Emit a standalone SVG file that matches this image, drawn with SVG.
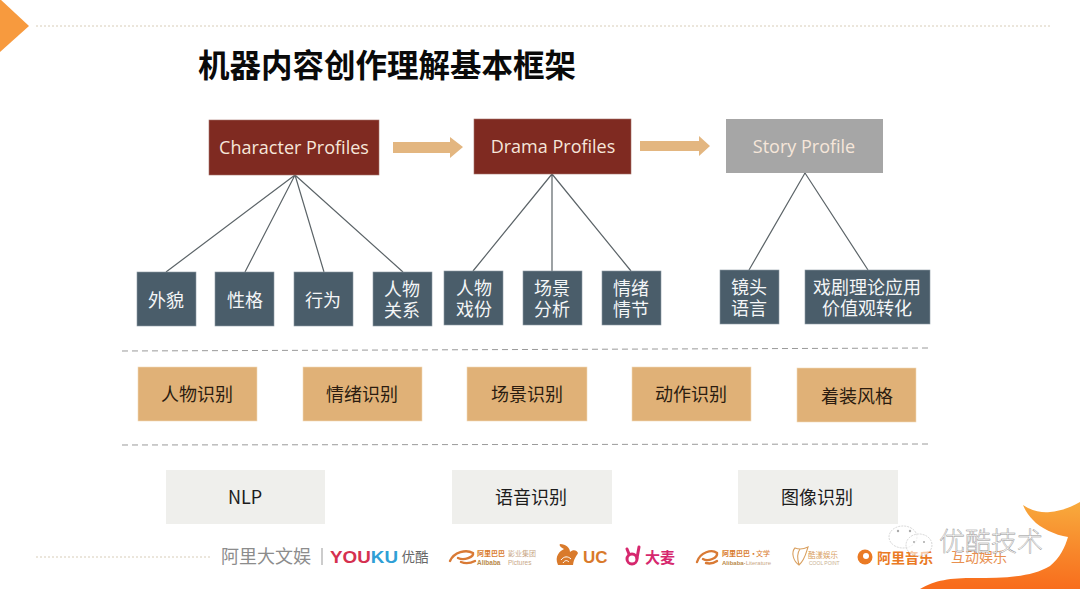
<svg xmlns="http://www.w3.org/2000/svg" width="1080" height="589" viewBox="0 0 1080 589">
<defs>
<linearGradient id="tail" x1="0.7" y1="0" x2="0.6" y2="1">
<stop offset="0" stop-color="#f8a93c"/>
<stop offset="0.55" stop-color="#f8862a"/>
<stop offset="1" stop-color="#f86c1c"/>
</linearGradient>
<style>
text{font-family:"Noto Sans CJK SC","Noto Sans",sans-serif;text-anchor:middle}
.red{fill:#7f2a21;stroke:#a5726a;stroke-width:.6}
.slate{fill:#4a5d6a;stroke:#8c9aa4;stroke-width:.6}
.tan{fill:#e0b177;stroke:#f0d9b8;stroke-width:.6}
.pale{fill:#efefec}
.en{font-family:"Open Sans","Noto Sans",sans-serif;font-size:18px;fill:#f6e6da}
.wt{font-size:18px;fill:#f4f6f7}
.bk{font-size:18px;fill:#2b1c10}
.link{stroke:#5c6468;stroke-width:1.2;fill:none}
.dash{stroke:#9a9a9a;stroke-width:1;stroke-dasharray:6 4;fill:none}
.dot{stroke:#d8cdb8;stroke-width:1;stroke-dasharray:2 2;fill:none}
.flow{fill:#e3b680}
.start{text-anchor:start}
.latin{font-family:"Liberation Sans",sans-serif}
.ali{font-size:7px;fill:#d97a2b}
.alien{font-size:6.5px;font-weight:700;fill:#b98a4a}
.swoosh{fill:none;stroke:#d97a35;stroke-width:2.4;stroke-linecap:round}
.bubble{fill:#fff;fill-opacity:.6;stroke:#c4c4c4;stroke-width:.7;stroke-dasharray:2 1}
</style>
</defs>
<rect width="1080" height="589" fill="#fff"/>
<g id="decor">
<polygon points="0,-1 29,26 0,52" fill="#f79a3e"/>
<line class="dot" x1="36" y1="26" x2="1050" y2="26"/>
<line class="dot" x1="36" y1="557" x2="212" y2="557"/>
<path d="M920,589C935,580 950,578 975,578C1000,578 1030,578 1050,566C1060,558 1065,547 1068,537C1055,535 1040,528 1033,520C1028,515 1025,510 1023,505C1032,511 1042,513 1050,512C1060,511 1070,508 1080,502V589Z" fill="url(#tail)"/>
</g>
<text id="title" x="387" y="77" style="font-size:31.5px;font-weight:700;fill:#0a0a0a">机器内容创作理解基本框架</text>
<g id="connectors">
<path class="link" d="M295,175L166,272M295,175L245,272M295,175L324,272M295,175L403,272"/>
<path class="link" d="M552,174L473,271M552,174L552,271M552,174L631,271"/>
<path class="link" d="M805,173L749,270M805,173L868,270"/>
<polygon class="flow" points="393,142 450,142 450,137 463,147 450,158 450,153 393,153"/>
<polygon class="flow" points="640,141 699,141 699,136 710,146 699,156 699,151 640,151"/>
</g>
<g id="character-profiles"><rect class="red" x="209" y="120" width="170" height="55"/><text class="en" x="294" y="154">Character Profiles</text></g>
<g id="drama-profiles"><rect class="red" x="474" y="119" width="157" height="55"/><text class="en" x="553" y="153">Drama Profiles</text></g>
<g id="story-profile"><rect x="726" y="119" width="157" height="54" fill="#a6a6a6"/><text class="en" x="804" y="153">Story Profile</text></g>
<g id="n-appearance"><rect class="slate" x="137" y="272" width="59" height="54"/><text class="wt" x="166" y="307">外貌</text></g>
<g id="n-personality"><rect class="slate" x="215" y="272" width="59" height="54"/><text class="wt" x="245" y="307">性格</text></g>
<g id="n-behaviour"><rect class="slate" x="294" y="272" width="59" height="54"/><text class="wt" x="323" y="307">行为</text></g>
<g id="n-relations"><rect class="slate" x="373" y="272" width="59" height="54"/><text class="wt" x="402" y="296">人物</text><text class="wt" x="402" y="317">关系</text></g>
<g id="n-role"><rect class="slate" x="444" y="271" width="59" height="54"/><text class="wt" x="474" y="295">人物</text><text class="wt" x="474" y="316">戏份</text></g>
<g id="n-scene"><rect class="slate" x="523" y="271" width="59" height="54"/><text class="wt" x="552" y="295">场景</text><text class="wt" x="552" y="316">分析</text></g>
<g id="n-plot"><rect class="slate" x="602" y="271" width="59" height="54"/><text class="wt" x="631" y="295">情绪</text><text class="wt" x="631" y="316">情节</text></g>
<g id="n-shot"><rect class="slate" x="720" y="270" width="59" height="54"/><text class="wt" x="749" y="294">镜头</text><text class="wt" x="749" y="315">语言</text></g>
<g id="n-theory"><rect class="slate" x="805" y="270" width="125" height="54"/><text class="wt" x="867" y="294">戏剧理论应用</text><text class="wt" x="867" y="315">价值观转化</text></g>
<line class="dash" x1="122" y1="351" x2="929" y2="348"/>
<g id="r-person"><rect class="tan" x="138" y="367" width="119" height="54"/><text class="bk" x="197" y="401">人物识别</text></g>
<g id="r-emotion"><rect class="tan" x="303" y="367" width="119" height="54"/><text class="bk" x="362" y="401">情绪识别</text></g>
<g id="r-scene"><rect class="tan" x="467" y="367" width="120" height="54"/><text class="bk" x="527" y="401">场景识别</text></g>
<g id="r-action"><rect class="tan" x="632" y="367" width="119" height="54"/><text class="bk" x="691" y="401">动作识别</text></g>
<g id="r-costume"><rect class="tan" x="797" y="368" width="119" height="54"/><text class="bk" x="857" y="403">着装风格</text></g>
<line class="dash" x1="122" y1="445" x2="929" y2="444"/>
<g id="b-nlp"><rect class="pale" x="166" y="470" width="159" height="54"/><text class="bk" x="245" y="504" style="fill:#1c1c1c">NLP</text></g>
<g id="b-speech"><rect class="pale" x="452" y="470" width="160" height="54"/><text class="bk" x="531" y="504" style="fill:#1c1c1c">语音识别</text></g>
<g id="b-image"><rect class="pale" x="738" y="470" width="160" height="54"/><text class="bk" x="817" y="504" style="fill:#1c1c1c">图像识别</text></g>
<g id="footer">
<!-- group wordmark and divider -->
<text x="266" y="563" style="font-size:18px;fill:#8c8c8c">阿里大文娱</text>
<line x1="322" y1="548" x2="322" y2="565" stroke="#999"/>
<text class="start latin" x="330" y="563" textLength="68" lengthAdjust="spacingAndGlyphs" style="font-size:17px;font-weight:700;fill:#d5304f">YOU<tspan fill="#2f9fd6">KU</tspan></text>
<text x="415" y="562" style="font-size:13.5px;fill:#666">优酷</text>
<!-- pictures -->
<path class="swoosh" d="M450,561C454,552 466,549 473,553C474,557 464,561 458,558M461,562C466,564 471,563 475,561"/>
<text class="start ali" x="477" y="556" style="font-weight:700">阿里巴巴</text>
<text class="start ali" x="508" y="556" style="fill:#c9a887">影业集团</text>
<text class="start latin alien" x="477" y="565">Alibaba</text>
<text class="start latin" x="508" y="565" style="font-size:6.5px;fill:#c9a887">Pictures</text>
<!-- UC squirrel -->
<path d="M558,565C554,556 560,551 564,549C560,547 559,545 560,544C566,544 570,548 570,552C573,549 577,550 578,553C576,557 574,558 573,565Z" fill="#d97a2b"/>
<path d="M561,560C564,556 568,556 571,559M563,563C565,560 567,560 569,562" fill="none" stroke="#fff" stroke-width="1"/>
<text class="start latin" x="583" y="563" style="font-size:17px;font-weight:700;fill:#d97a2b">UC</text>
<!-- damai -->
<circle cx="632" cy="559" r="5" fill="none" stroke="#d6286e" stroke-width="3"/>
<path d="M637,558L639,547M629,554L627,549" stroke="#d6286e" stroke-width="3" fill="none" stroke-linecap="round"/>
<text class="start" x="645" y="563" style="font-size:15px;font-weight:700;fill:#d6286e">大麦</text>
<!-- literature -->
<path class="swoosh" d="M697,562C700,552 712,549 717,553C718,558 708,562 703,559M706,563C710,564 714,563 717,561"/>
<text class="start ali" x="722" y="556" style="font-weight:700">阿里巴巴·</text>
<text class="start ali" x="756" y="556">文学</text>
<text class="start latin alien" x="722" y="565" style="font-size:6px">Alibaba·<tspan font-weight="400" fill="#c9a887">Literature</tspan></text>
<!-- cool point -->
<path d="M799,565C793,561 791,552 795,548C800,550 806,548 808,547C806,553 805,560 799,565ZM799,565C797,558 797,553 800,549" fill="none" stroke="#d9a060" stroke-width="1.1"/>
<text class="start" x="808" y="558" style="font-size:7.5px;fill:#d9a060">酷漾娱乐</text>
<text class="start latin" x="809" y="565" style="font-size:5px;fill:#c9b090">COOL POINT</text>
<!-- music -->
<circle cx="865" cy="557" r="7.5" fill="#ea7a24"/>
<circle cx="866" cy="556" r="3" fill="#fff"/>
<text class="start" x="877" y="563" style="font-size:14px;font-weight:700;fill:#ea7a24">阿里音乐</text>
<text x="979" y="562" style="font-size:14px;fill:#e89050">互动娱乐</text>
<!-- channel mark laid over the logo row -->
<ellipse class="bubble" cx="903" cy="537" rx="14" ry="11"/>
<ellipse class="bubble" cx="919" cy="545" rx="13" ry="11"/>
<circle cx="898" cy="531" r="1.2" fill="#aaa"/><circle cx="910" cy="531" r="1.2" fill="#aaa"/>
<circle cx="914" cy="542" r="1" fill="#aaa"/><circle cx="924" cy="542" r="1" fill="#aaa"/>
<text x="991" y="551" style="font-size:26px;font-weight:300;fill:#fff;stroke:#8f8f8f;stroke-width:.45">优酷技术</text>
</g>
</svg>
